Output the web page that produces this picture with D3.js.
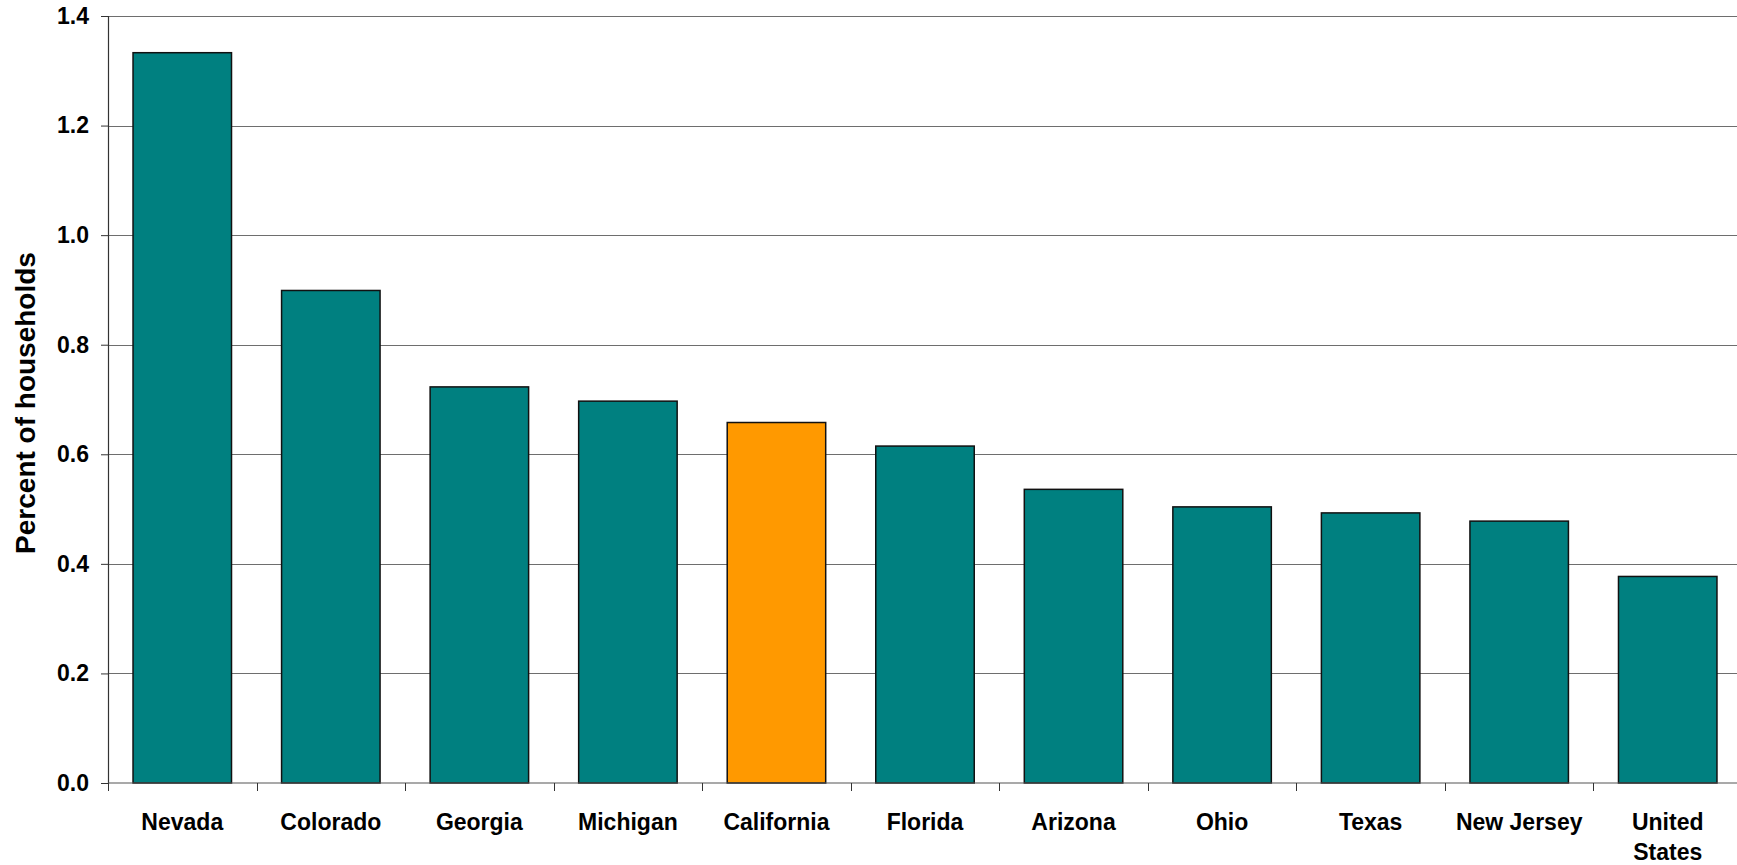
<!DOCTYPE html>
<html>
<head>
<meta charset="utf-8">
<script src="https://cdn.jsdelivr.net/npm/d3@7"></script>
<style>
  html, body { margin: 0; padding: 0; background: #fff; }
  svg { display: block; }
  text { font-family: "Liberation Sans", Arial, sans-serif; font-weight: bold; fill: #000; }
</style>
</head>
<body>
<svg id="chart" width="1737" height="865"></svg>
<script>
// Share of households, by state
const categories = ["Nevada", "Colorado", "Georgia", "Michigan", "California", "Florida",
                    "Arizona", "Ohio", "Texas", "New Jersey", "United States"];
const values = [1.333, 0.899, 0.723, 0.697, 0.658, 0.615, 0.536, 0.504, 0.493, 0.478, 0.377];
const highlighted = ["California"];
const yTicks = [0, 0.2, 0.4, 0.6, 0.8, 1.0, 1.2, 1.4];
const yTitle = "Percent of households";

const W = 1737, H = 865;
const margin = { top: 16, right: -5, bottom: 82, left: 108 };

const svg = d3.select("#chart");

const x = d3.scaleBand()
  .domain(categories)
  .range([margin.left, W - margin.right])
  .paddingInner(0.337)
  .paddingOuter(0.1685);

const y = d3.scaleLinear()
  .domain([0, 1.4])
  .range([H - margin.bottom, margin.top]);

// horizontal gridlines
svg.append("g")
  .selectAll("line")
  .data(yTicks.filter(d => d > 0))
  .join("line")
  .attr("x1", margin.left)
  .attr("x2", W)
  .attr("y1", d => Math.round(y(d)) + 0.5)
  .attr("y2", d => Math.round(y(d)) + 0.5)
  .attr("stroke", "#6e6e6e")
  .attr("stroke-width", 1);

// bars
svg.append("g")
  .selectAll("rect")
  .data(categories.map((c, i) => ({ c, v: values[i] })))
  .join("rect")
  .attr("x", d => x(d.c))
  .attr("y", d => y(d.v))
  .attr("width", x.bandwidth())
  .attr("height", d => y(0) - y(d.v))
  .attr("fill", d => highlighted.includes(d.c) ? "#FF9900" : "#008080")
  .attr("stroke", "#111")
  .attr("stroke-width", 1.5);

// y axis
const yAxis = svg.append("g")
  .attr("transform", `translate(${margin.left},0)`)
  .call(d3.axisLeft(y).tickValues(yTicks).tickFormat(d3.format(".1f"))
    .tickSize(7).tickPadding(12));
yAxis.select(".domain").attr("stroke", "#333").attr("stroke-width", 1.2);
yAxis.selectAll(".tick line").attr("stroke", "#333");
yAxis.selectAll("text")
  .style("font-family", "'Liberation Sans', Arial, sans-serif")
  .style("font-weight", "bold")
  .style("font-size", "23px")
  .attr("fill", "#000");

// x axis baseline and category dividers
const base = y(0);
svg.append("line")
  .attr("x1", margin.left).attr("x2", W)
  .attr("y1", base).attr("y2", base)
  .attr("stroke", "#555").attr("stroke-width", 1.2);

const step = x.step();
svg.append("g")
  .selectAll("line")
  .data(d3.range(categories.length + 1))
  .join("line")
  .attr("x1", i => Math.round(margin.left + i * step) + 0.5)
  .attr("x2", i => Math.round(margin.left + i * step) + 0.5)
  .attr("y1", base)
  .attr("y2", base + 8)
  .attr("stroke", "#333");

// category labels (wrap two-word "United States")
const labels = svg.append("g")
  .selectAll("text")
  .data(categories)
  .join("text")
  .attr("x", d => x(d) + x.bandwidth() / 2)
  .attr("y", base + 47)
  .attr("text-anchor", "middle")
  .style("font-size", "23px");

labels.each(function(d) {
  const t = d3.select(this);
  const lines = d === "United States" ? ["United", "States"] : [d];
  lines.forEach((ln, i) => {
    t.append("tspan")
      .attr("x", x(d) + x.bandwidth() / 2)
      .attr("dy", i === 0 ? 0 : 30)
      .text(ln);
  });
});

// y axis title
svg.append("text")
  .attr("transform", "translate(35,403) rotate(-90)")
  .attr("text-anchor", "middle")
  .style("font-size", "28px")
  .text(yTitle);
</script>
</body>
</html>
